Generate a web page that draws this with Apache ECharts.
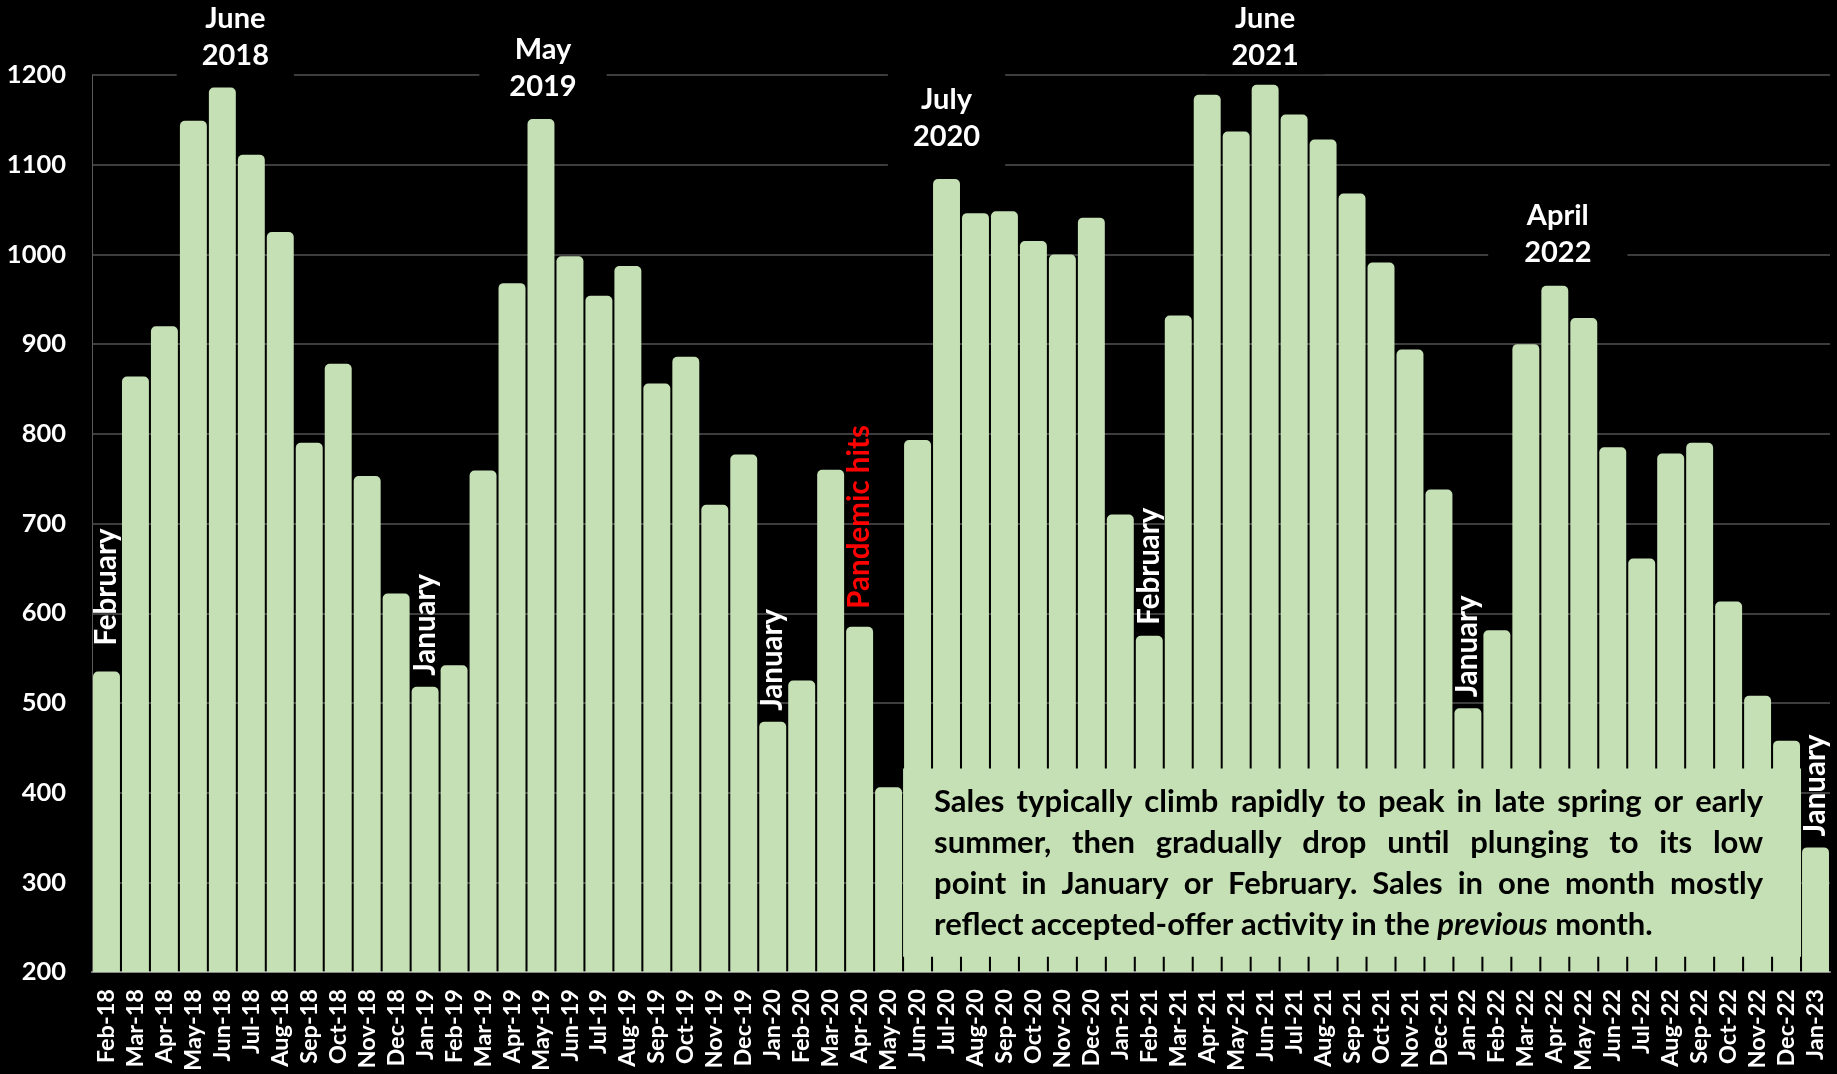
<!DOCTYPE html>
<html>
<head>
<meta charset="utf-8">
<script src="https://cdn.jsdelivr.net/npm/echarts@6/dist/echarts.min.js"></script>
<style>
  html, body { margin: 0; padding: 0; background: #000; }
  #chart { width: 1837px; height: 1074px; }
</style>
</head>
<body>
<div id="chart"></div>
<script>
// monthly sales, Feb 2018 .. Jan 2023
const months = [
  'Feb-18','Mar-18','Apr-18','May-18','Jun-18','Jul-18','Aug-18','Sep-18','Oct-18','Nov-18','Dec-18',
  'Jan-19','Feb-19','Mar-19','Apr-19','May-19','Jun-19','Jul-19','Aug-19','Sep-19','Oct-19','Nov-19','Dec-19',
  'Jan-20','Feb-20','Mar-20','Apr-20','May-20','Jun-20','Jul-20','Aug-20','Sep-20','Oct-20','Nov-20','Dec-20',
  'Jan-21','Feb-21','Mar-21','Apr-21','May-21','Jun-21','Jul-21','Aug-21','Sep-21','Oct-21','Nov-21','Dec-21',
  'Jan-22','Feb-22','Mar-22','Apr-22','May-22','Jun-22','Jul-22','Aug-22','Sep-22','Oct-22','Nov-22','Dec-22',
  'Jan-23'
];
const sales = [
  535, 864, 920, 1149, 1186, 1111, 1025, 790, 878, 753, 622,
  518, 542, 759, 968, 1151, 998, 954, 987, 856, 886, 721, 777,
  479, 525, 760, 585, 406, 793, 1084, 1046, 1048, 1015, 1000, 1041,
  710, 575, 932, 1178, 1137, 1189, 1156, 1128, 1068, 991, 894, 738,
  494, 581, 900, 965, 929, 785, 661, 778, 790, 613, 508, 458,
  339
];
const yMin = 200, yMax = 1200, yStep = 100;

// peak labels (month, text)
const peakNotes = [
  ['Jun-18', 'June\n2018'],
  ['May-19', 'May\n2019'],
  ['Jul-20', 'July\n2020'],
  ['Jun-21', 'June\n2021'],
  ['Apr-22', 'April\n2022']
];
// low-point labels (month, text)
const lowNotes = [
  ['Feb-18', 'February'],
  ['Jan-19', 'January'],
  ['Jan-20', 'January'],
  ['Apr-20', 'Pandemic hits'],
  ['Feb-21', 'February'],
  ['Jan-22', 'January'],
  ['Jan-23', 'January']
];
const boxLines = [
  'Sales typically climb rapidly to peak in late spring or early',
  'summer, then gradually drop until plunging to its low',
  'point in January or February. Sales in one month mostly',
  'reflect accepted-offer activity in the previous month.'
];
const boxItalic = ['previous'];

// layout of the annotations
const peakLayout = {
  'Jun-18': { level: 1242, dx: 13, pad: [6, 25] },
  'May-19': { level: 1208, dx: 2, pad: [6, 30] },
  'Jul-20': { level: 1152, dx: 0, pad: [12, 25] },
  'Jun-21': { level: 1242, dx: 0, pad: [0, 25] },
  'Apr-22': { level: 1023, dx: 3, pad: [6, 36] }
};
const lowGap = { 'Feb-18': 26, 'Apr-20': 18 };
const boxSpan = { from: 'Jun-20', to: 'Dec-22', top: 427, bottom: 217 };

const green = '#C5E0B4';
const FONT = 'Lato';

const lowMap = Object.fromEntries(lowNotes);
const barData = sales.map((v, i) => {
  const t = lowMap[months[i]];
  if (!t) return v;
  return {
    value: v,
    label: {
      show: true,
      position: 'top',
      distance: lowGap[months[i]] || 11,
      rotate: 90,
      align: 'left',
      verticalAlign: 'middle',
      formatter: t,
      color: t === 'Pandemic hits' ? '#ff0000' : '#ffffff',
      fontFamily: FONT,
      fontWeight: 'bold',
      fontSize: 29.5
    }
  };
});

const chart = echarts.init(document.getElementById('chart'), null, { renderer: 'canvas' });

const option = {
  backgroundColor: '#000',
  animation: false,
  grid: { left: 92, right: 7, top: 75, bottom: 99 },
  xAxis: {
    type: 'category',
    data: months,
    axisTick: { show: false },
    axisLine: { lineStyle: { color: '#8a8a8a', width: 2 } },
    axisLabel: {
      interval: 0,
      rotate: 90,
      margin: 17,
      color: '#fff',
      fontFamily: FONT,
      fontWeight: 'bold',
      fontSize: 23.5
    }
  },
  yAxis: {
    type: 'value',
    min: yMin,
    max: yMax,
    interval: yStep,
    axisLine: { show: true, lineStyle: { color: '#5a5a5a', width: 1 } },
    axisTick: { show: false },
    splitLine: { lineStyle: { color: '#3d3d3d', width: 2 } },
    axisLabel: {
      margin: 26,
      color: '#fff',
      fontFamily: FONT,
      fontWeight: 'bold',
      fontSize: 25.5,
      formatter: v => String(v)
    }
  },
  series: [{
    type: 'bar',
    data: barData,
    barCategoryGap: '7%',
    itemStyle: { color: green, borderRadius: [5, 5, 0, 0] },
    z: 2
  }]
};
chart.setOption(option);

// annotations placed from data coordinates
const xPx = c => chart.convertToPixel({ xAxisIndex: 0 }, c);
const yPx = v => chart.convertToPixel({ yAxisIndex: 0 }, v);
const catW = xPx(months[1]) - xPx(months[0]);

const elements = [];

peakNotes.forEach(([m, text]) => {
  const L = peakLayout[m];
  elements.push({
    type: 'text',
    z: 50,
    x: xPx(m) + L.dx,
    y: yPx(L.level),
    style: {
      text: text,
      align: 'center',
      verticalAlign: 'middle',
      fill: '#fff',
      font: 'bold 29px ' + FONT,
      lineHeight: 37,
      backgroundColor: '#000',
      padding: L.pad
    }
  });
});

// text box over the bars
const bLeft = xPx(boxSpan.from) - catW / 2;
const bRight = xPx(boxSpan.to) + catW / 2;
const bTop = yPx(boxSpan.top);
const bBottom = yPx(boxSpan.bottom);
elements.push({
  type: 'rect',
  z: 40,
  shape: { x: bLeft, y: bTop, width: bRight - bLeft, height: bBottom - bTop },
  style: { fill: green }
});

const fs = 31;
const padL = 31, padR = 38, firstLine = 34, lineStep = 41;
const ctx = document.createElement('canvas').getContext('2d');
const fontFor = w => (boxItalic.includes(w.replace(/[^a-z]/gi, '')) ? 'italic ' : '') + 'bold ' + fs + 'px ' + FONT;
const textW = bRight - bLeft - padL - padR;

boxLines.forEach((line, li) => {
  const words = line.split(' ');
  const widths = words.map(w => { ctx.font = fontFor(w); return ctx.measureText(w).width; });
  const sum = widths.reduce((a, b) => a + b, 0);
  ctx.font = 'bold ' + fs + 'px ' + FONT;
  const space = ctx.measureText(' ').width;
  const last = li === boxLines.length - 1;
  const gap = last ? space : Math.max(space * 0.6, (textW - sum) / (words.length - 1));
  let x = bLeft + padL;
  const y = bTop + firstLine + li * lineStep;
  words.forEach((w, wi) => {
    elements.push({
      type: 'text',
      z: 45,
      x: x,
      y: y,
      style: { text: w, align: 'left', verticalAlign: 'middle', fill: '#000', font: fontFor(w) }
    });
    x += widths[wi] + gap;
  });
});

chart.setOption({ graphic: { elements: elements } });
</script>
</body>
</html>
